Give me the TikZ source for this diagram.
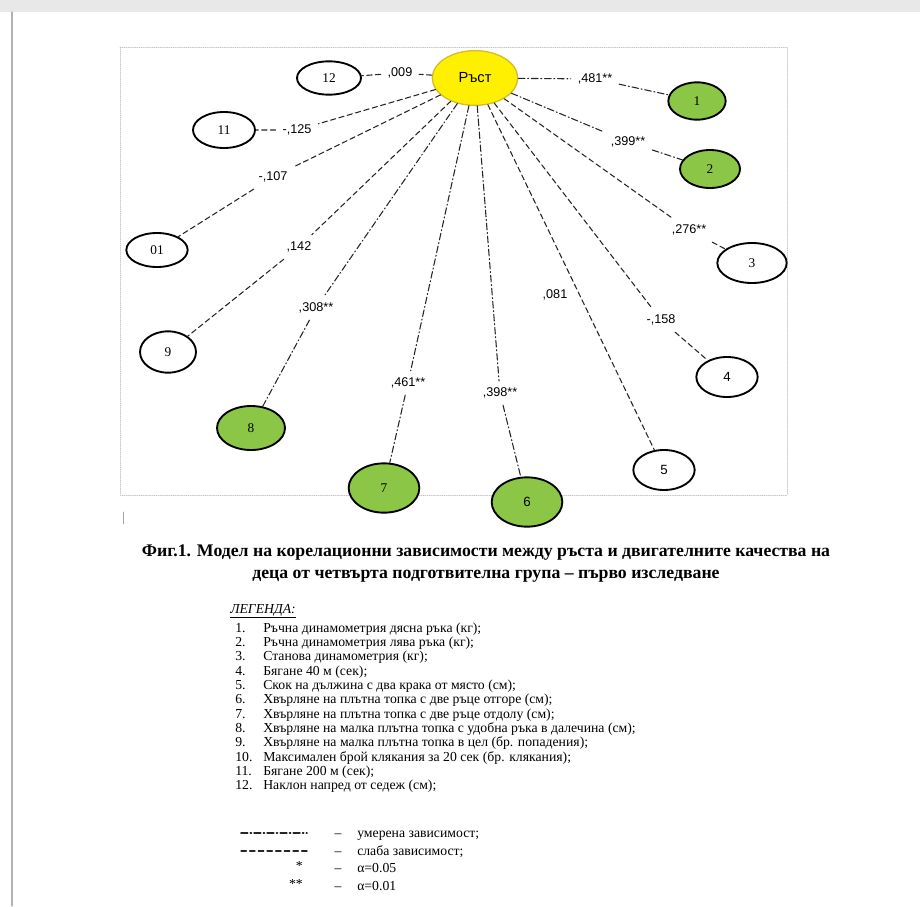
\documentclass[tikz,border=0pt]{standalone}
\usepackage{fontspec}
\setmainfont{Liberation Serif}
\setsansfont{Liberation Sans}
\usetikzlibrary{shapes.geometric}

\definecolor{rostyellow}{RGB}{255,240,0}
\definecolor{rostborder}{RGB}{214,188,40}
\definecolor{factorgreen}{RGB}{140,198,70}

\begin{document}
\begin{tikzpicture}[x=0.75pt, y=-0.75pt, line cap=round, line join=round,
  weaklink/.style={draw=black!85, line width=0.8pt, dash pattern=on 4pt off 2.5pt},
  modlink/.style={draw=black!85, line width=0.8pt, dash pattern=on 5pt off 2pt on 0.8pt off 2pt},
  factor/.style={ellipse, draw, line width=1.4pt, inner sep=0pt, fill=white,
    font=\fontsize{10}{12}\selectfont},
  greenfactor/.style={factor, fill=factorgreen},
  coef/.style={font=\sffamily\fontsize{9.5}{11}\selectfont, inner sep=5pt},
  legtext/.style={font=\fontsize{10.3}{12}\selectfont, inner sep=0pt}]
  % Page and frame
  \useasboundingbox (0,0) rectangle (920,906);
  \fill[white] (0,0) rectangle (920,906);
  \fill[gray!18] (0,0) rectangle (920,12);
  \draw[gray!60, line width=0.8pt] (12,12) -- (12,906);
  \draw[gray!45, densely dotted, line width=0.6pt] (120,47) rectangle (787,495);
  \draw[gray!70, line width=0.6pt] (123,512) -- (123,524);

  % Central node
  \node[ellipse, draw=rostborder, fill=rostyellow, line width=1pt, minimum width=64pt,
    minimum height=41pt, font=\sffamily\fontsize{11}{13}\selectfont] (rost) at (475,78) {Ръст};

  % Motor qualities
  \node[greenfactor, minimum width=43pt, minimum height=28pt] (n1) at (697,101) {1};
  \node[greenfactor, minimum width=45pt, minimum height=28.5pt] (n2) at (710,169) {2};
  \node[factor, minimum width=52pt, minimum height=30pt] (n3) at (752,263) {3};
  \node[factor, minimum width=46pt, minimum height=30pt, font=\sffamily\fontsize{10}{12}\selectfont] (n4) at (727,377) {4};
  \node[factor, minimum width=46pt, minimum height=30pt, font=\sffamily\fontsize{10}{12}\selectfont] (n5) at (664,470) {5};
  \node[greenfactor, minimum width=53pt, minimum height=37pt, font=\sffamily\fontsize{10}{12}\selectfont] (n6) at (527,502) {6};
  \node[greenfactor, minimum width=53pt, minimum height=37pt] (n7) at (384,488) {7};
  \node[greenfactor, minimum width=51pt, minimum height=33pt] (n8) at (251,428) {8};
  \node[factor, minimum width=42pt, minimum height=31pt] (n9) at (168,352) {9};
  \node[factor, minimum width=46pt, minimum height=25.5pt] (n10) at (157,250) {01};
  \node[factor, minimum width=46.5pt, minimum height=27pt] (n11) at (224,130) {11};
  \node[factor, minimum width=48pt, minimum height=25pt] (n12) at (329,78) {12};

  % Correlation coefficients
  \node[coef] (c1) at (595,79) {,481**};
  \node[coef] (c2) at (628,142) {,399**};
  \node[coef] (c3) at (689,230) {,276**};
  \node[coef] (c4) at (661,320) {-,158};
  \node[coef] (c5) at (555,295) {,081};
  \node[coef] (c6) at (500,393) {,398**};
  \node[coef] (c7) at (408,383) {,461**};
  \node[coef] (c8) at (316,308) {,308**};
  \node[coef] (c9) at (299,247) {,142};
  \node[coef] (c10) at (273,177) {-,107};
  \node[coef] (c11) at (297,130) {-,125};
  \node[coef] (c12) at (400,73) {,009};

  % Connectors
  \foreach \k in {1,2,6,7,8}
    \draw[modlink] (rost) -- (c\k) -- (n\k);
  \foreach \k in {3,4,9,10,11,12}
    \draw[weaklink] (rost) -- (c\k) -- (n\k);
  \draw[weaklink] (rost) -- (n5);

  % Caption
  \node[font=\bfseries\fontsize{13.3}{16.5}\selectfont, align=center] (caption) at (486,564)
    {Фиг.1. Модел на корелационни зависимости между ръста и двигателните качества на\\
     деца от четвърта подготвителна група – първо изследване};

  % Legend
  \node[legtext, anchor=base west] (legtitle) at (230,613) {\underline{\textit{ЛЕГЕНДА:}}};
  \foreach \txt [count=\i] in {
      {Ръчна динамометрия дясна ръка (кг);},
      {Ръчна динамометрия лява ръка (кг);},
      {Станова динамометрия (кг);},
      {Бягане 40 м (сек);},
      {Скок на дължина с два крака от място (см);},
      {Хвърляне на плътна топка с две ръце отгоре (см);},
      {Хвърляне на плътна топка с две ръце отдолу (см);},
      {Хвърляне на малка плътна топка с удобна ръка в далечина (см);},
      {Хвърляне на малка плътна топка в цел (бр. попадения);},
      {Максимален брой клякания за 20 сек (бр. клякания);},
      {Бягане 200 м (сек);},
      {Наклон напред от седеж (см);}} {
    \node[legtext, anchor=base west] (num\i) at (235,{632+(\i-1)*14.36}) {\i.};
    \node[legtext, anchor=base west] (leg\i) at (263,{632+(\i-1)*14.36}) {\txt};
  }

  % Line types and significance
  \coordinate (mstart) at (241,833);
  \coordinate (mend) at (307,833);
  \coordinate (wstart) at (241,851);
  \coordinate (wend) at (307,851);
  \draw[modlink, line width=1.2pt] (mstart) -- (mend);
  \draw[weaklink, line width=1pt] (wstart) -- (wend);
  \node[legtext, anchor=base] (dash1) at (338,837) {–};
  \node[legtext, anchor=base] (dash2) at (338,855) {–};
  \node[legtext, anchor=base] (dash3) at (338,872) {–};
  \node[legtext, anchor=base] (dash4) at (338,890) {–};
  \node[legtext, anchor=base west] (moderate) at (357,837) {умерена зависимост;};
  \node[legtext, anchor=base west] (weak) at (357,855) {слаба зависимост;};
  \node[legtext, anchor=east] (star1) at (303,866) {*};
  \node[legtext, anchor=east] (star2) at (303,884) {**};
  \node[legtext, anchor=base west] (alpha1) at (357,872) {α=0.05};
  \node[legtext, anchor=base west] (alpha2) at (357,890) {α=0.01};
\end{tikzpicture}
\end{document}
